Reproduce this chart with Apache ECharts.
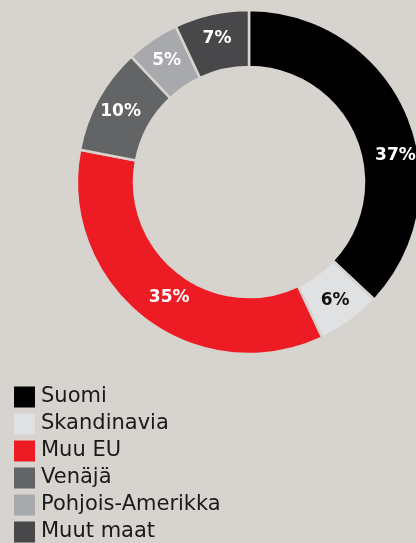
<!DOCTYPE html>
<html><head><meta charset="utf-8">
<script src="https://cdn.jsdelivr.net/npm/echarts@6/dist/echarts.min.js"></script>
<style>html,body{margin:0;padding:0;background:#d7d3ce;}#c{width:416px;height:543px;}</style>
</head><body><div id="c"></div>
<script>
const categories = ['Suomi', 'Skandinavia', 'Muu EU', 'Venäjä', 'Pohjois-Amerikka', 'Muut maat'];
const values = [37, 6, 35, 10, 5, 7];
const colors = ['#000000', '#e0e1e3', '#ed1c24', '#636466', '#a7a9ac', '#48484a'];
const labelColors = ['#ffffff', '#111111', '#ffffff', '#ffffff', '#ffffff', '#ffffff'];
const bg = '#d7d3ce';

const chart = echarts.init(document.getElementById('c'));
chart.setOption({
  backgroundColor: bg,
  animation: false,
  color: colors,
  legend: {
    orient: 'vertical', left: 12, top: 384, padding: 0, height: 170,
    itemWidth: 23, itemHeight: 23, itemGap: 1, icon: 'rect',
    textStyle: { fontFamily: 'DejaVu Sans', fontSize: 21, lineHeight: 23, color: '#1a1a1a', padding: [3, 0, 0, 0] },
    data: categories
  },
  series: [{
    type: 'pie',
    center: [249, 182],
    radius: [115, 172],
    startAngle: 90,
    clockwise: true,
    avoidLabelOverlap: false,
    itemStyle: { borderColor: bg, borderWidth: 2.5 },
    label: {
      show: true, position: 'inside',
      fontFamily: 'DejaVu Sans', fontWeight: 'bold', fontSize: 17,
      formatter: p => p.value + '%'
    },
    labelLine: { show: false },
    labelLayout: function (p) {
      if (p.dataIndex === 0) return { dx: 12, dy: 32 };
      if (p.dataIndex === 2) return { dx: 10, dy: 0 };
      return {};
    },
    data: categories.map((c, i) => ({
      name: c, value: values[i],
      itemStyle: { color: colors[i] },
      label: { color: labelColors[i] }
    }))
  }]
});
</script></body></html>
